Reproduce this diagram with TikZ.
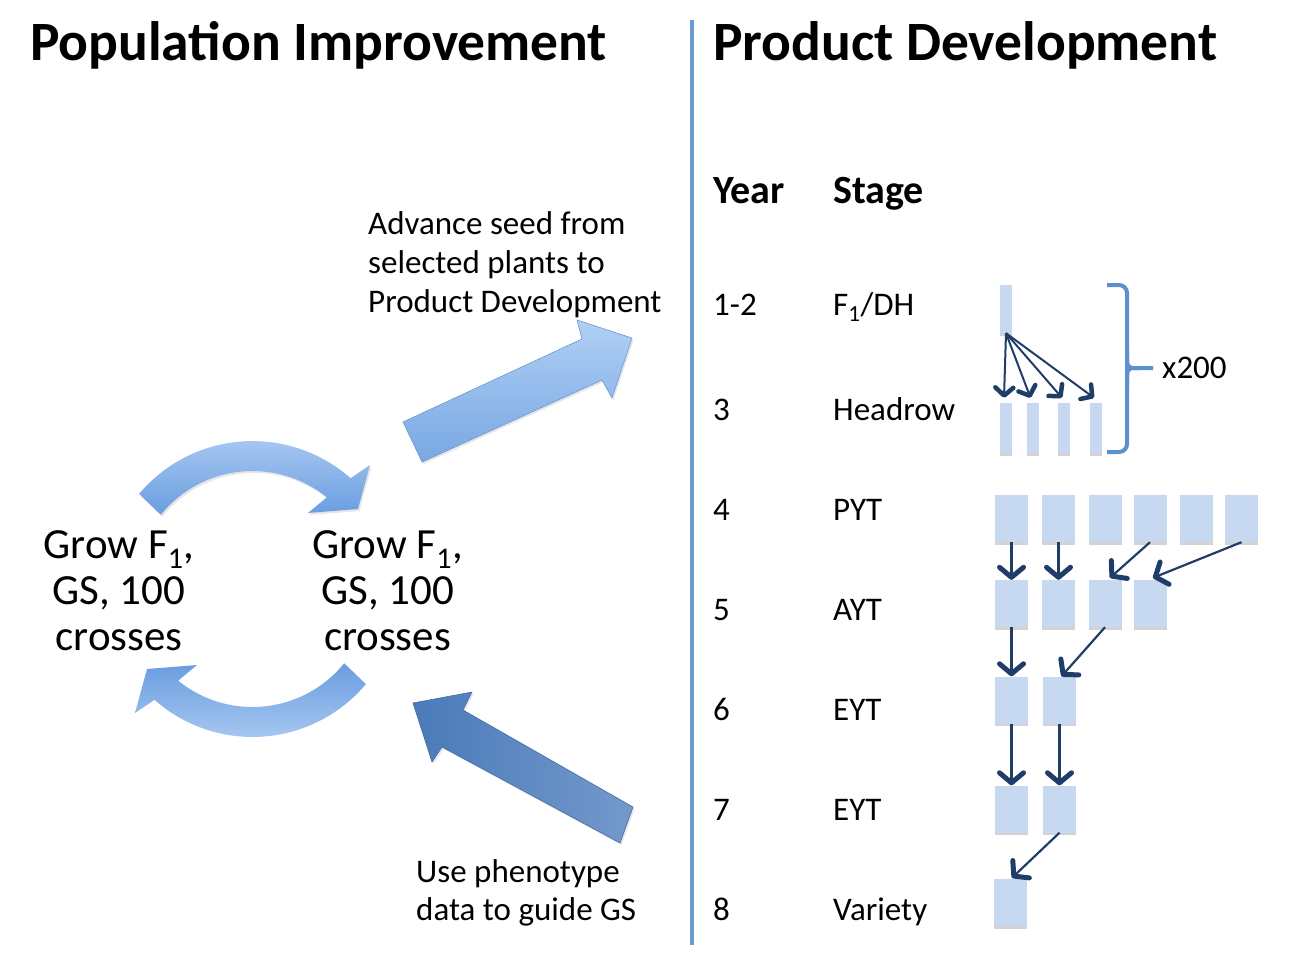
\documentclass[tikz,border=0pt]{standalone}
\usepackage{fontspec}
\setmainfont{Carlito}
\usetikzlibrary{arrows.meta,shadows,calc}
\definecolor{boxblue}{HTML}{C6D9F0}
\definecolor{navy}{HTML}{1F3D68}
\definecolor{divblue}{HTML}{6A9AD0}
\definecolor{braceblue}{HTML}{5B8FD0}
\definecolor{arclight}{HTML}{AACAF2}
\definecolor{arcdark}{HTML}{6A9DE0}
\definecolor{uplight}{HTML}{B0CFF4}
\definecolor{updark}{HTML}{78A8E4}
\definecolor{lowdark}{HTML}{4A7AB9}
\definecolor{lowlight}{HTML}{7499CC}
\begin{document}
\begin{tikzpicture}[x=1pt,y=1pt,
  plotbox/.style={fill=boxblue, draw=none, inner sep=0pt, minimum width=33pt, minimum height=47pt,
    drop shadow={shadow xshift=0pt,shadow yshift=-2.5pt,opacity=0.35,fill=gray}},
  barbox/.style={plotbox, minimum width=12pt, minimum height=50pt},
  flow/.style={draw=navy, line width=2.2pt, -{Straight Barb[length=10pt,width=24pt,line width=5pt,round]}},
  smallflow/.style={draw=navy, line width=2pt, -{Straight Barb[length=8pt,width=18pt,line width=4.5pt,round]}},
  title/.style={font=\fontsize{55.5}{60}\selectfont\bfseries, inner sep=0pt, anchor=base west},
  head/.style={font=\fontsize{40}{46}\selectfont\bfseries, inner sep=0pt, anchor=base west},
  lbl/.style={font=\fontsize{33}{39}\selectfont, inner sep=0pt, anchor=base west},
  note/.style={font=\fontsize{33}{39}\selectfont, inner sep=0pt, anchor=north west, align=left},
  cyc/.style={font=\fontsize{43}{46}\selectfont, inner sep=0pt, anchor=north, align=center},
  arrshadow/.style={drop shadow={shadow xshift=1.5pt,shadow yshift=-2pt,opacity=0.2,fill=gray}}
]
\useasboundingbox (0,0) rectangle (1290,-958);

% divider
\draw[divblue, line width=4pt] (692,-20) -- (692,-945);

% titles
\node[title] (tl) at (30,-60) {Population Improvement};
\node[title] (tr) at (713,-60) {Product Development};

% left cycle
\path[arrshadow, top color=arclight, bottom color=arcdark]
  (139.1,-493.9) arc[start angle=140,end angle=48.5,radius=148] -- (370,-465) -- (358,-509) -- (308,-513)
  -- (326.8,-497.3) arc[start angle=51,end angle=141,radius=118] -- cycle;
\begin{scope}[rotate around={180:(252.5,-589)}]
\path[top color=arcdark, bottom color=arclight]
  (139.1,-493.9) arc[start angle=140,end angle=48.5,radius=148] -- (370,-465) -- (358,-509) -- (308,-513)
  -- (326.8,-497.3) arc[start angle=51,end angle=141,radius=118] -- cycle;
\end{scope}

\node[cyc] (g1) at (119,-530) {Grow F\textsubscript{1},\\GS, 100\\crosses};
\node[cyc] (g2) at (387.5,-530) {Grow F\textsubscript{1},\\GS, 100\\crosses};

% big straight arrows
\path[arrshadow, top color=uplight, bottom color=updark, draw=updark!90!black, line width=0.6pt]
  (403,-422) -- (582,-339) -- (577,-320) -- (632,-338) -- (612,-398) -- (602,-380) -- (422,-462) -- cycle;
\path[arrshadow, left color=lowdark, right color=lowlight, draw=lowdark!90!black, line width=0.6pt]
  (413,-703) -- (472,-692) -- (463,-710) -- (633,-807) -- (620,-843) -- (442,-747) -- (432,-762) -- cycle;

\node[note] (adv) at (368,-211) {Advance seed from\\selected plants to\\Product Development};
\node[note, font=\fontsize{33}{38}\selectfont] (use) at (416,-859.5) {Use phenotype\\data to guide GS};

% table headings
\node[head] (year) at (713,-203) {Year};
\node[head] (stage) at (833,-203) {Stage};

\node[lbl] (y1) at (713,-315) {1-2};  \node[lbl] (s1) at (833,-315) {F\textsubscript{1}/DH};
\node[lbl] (y2) at (713,-420) {3};    \node[lbl] (s2) at (833,-420) {Headrow};
\node[lbl] (y3) at (713,-520) {4};    \node[lbl] (s3) at (833,-520) {PYT};
\node[lbl] (y4) at (713,-620) {5};    \node[lbl] (s4) at (833,-620) {AYT};
\node[lbl] (y5) at (713,-720) {6};    \node[lbl] (s5) at (833,-720) {EYT};
\node[lbl] (y6) at (713,-820) {7};    \node[lbl] (s6) at (833,-820) {EYT};
\node[lbl] (y7) at (713,-920) {8};    \node[lbl] (s7) at (833,-920) {Variety};

% F1/DH and headrows
\node[barbox, minimum height=48pt] (f) at (1006,-309) {};
\node[barbox] (h1) at (1006,-428) {};
\node[barbox] (h2) at (1032.5,-428) {};
\node[barbox] (h3) at (1064,-428) {};
\node[barbox] (h4) at (1096,-428) {};
\foreach \i in {1,...,4} \draw[smallflow] (f.south) -- ($(h\i.north)+(-2,5)$);

% bracket
\draw[braceblue, line width=4pt, rounded corners=8pt]
  (1107,-285) -- (1127,-285) -- (1127,-368) -- (1127,-452) -- (1107,-452);
\draw[braceblue, line width=4pt, rounded corners=6pt]
  (1127,-350) -- (1127,-368) -- (1153,-368);
\draw[braceblue, line width=4pt, rounded corners=6pt]
  (1127,-386) -- (1127,-368) -- (1140,-368);
\node[lbl, anchor=west] (x200) at (1162,-368) {x200};

% PYT row
\node[plotbox] (p1) at (1011.5,-518.5) {};
\node[plotbox] (p2) at (1058.5,-518.5) {};
\node[plotbox] (p3) at (1105,-518.5) {};
\node[plotbox] (p4) at (1150,-518.5) {};
\node[plotbox] (p5) at (1196.5,-518.5) {};
\node[plotbox] (p6) at (1241.5,-518.5) {};
% AYT row
\node[plotbox] (a1) at (1011.5,-603.5) {};
\node[plotbox] (a2) at (1058.5,-603.5) {};
\node[plotbox] (a3) at (1105,-603.5) {};
\node[plotbox] (a4) at (1150,-603.5) {};
% EYT rows
\node[plotbox] (e1) at (1011.5,-700) {};
\node[plotbox] (e2) at (1059.5,-700) {};
\node[plotbox] (k1) at (1011.5,-809) {};
\node[plotbox] (k2) at (1059.5,-809) {};
% Variety
\node[plotbox] (v) at (1010,-902.5) {};

\draw[flow] (p1.south) -- (a1.north);
\draw[flow] (p2.south) -- (a2.north);
\draw[flow] (p4.south) -- ($(a3.north)+(5,2)$);
\draw[flow] (p6.south) -- ($(a4.north)+(3,2)$);
\draw[flow] (a1.south) -- (e1.north);
\draw[flow] (a3.south) -- ($(e2.north)+(2,0)$);
\draw[flow] (e1.south) -- (k1.north);
\draw[flow] (e2.south) -- (k2.north);
\draw[flow] (k2.south) -- ($(v.north)+(2,1)$);
\end{tikzpicture}
\end{document}
